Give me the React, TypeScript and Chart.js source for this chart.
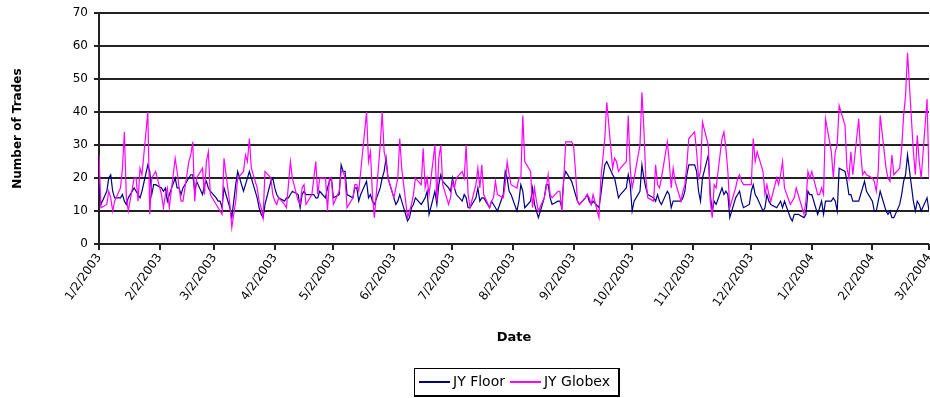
import React, { useEffect, useRef } from "react";
import { Chart, registerables } from "chart.js";

Chart.register(...registerables);

const START_DATE = "1/2/2003";
const END_DATE = "3/2/2004";

const xTickLabels = [
  "1/2/2003", "2/2/2003", "3/2/2003", "4/2/2003", "5/2/2003", "6/2/2003", "7/2/2003",
  "8/2/2003", "9/2/2003", "10/2/2003", "11/2/2003", "12/2/2003", "1/2/2004", "2/2/2004", "3/2/2004",
];

const yTickValues = [0, 10, 20, 30, 40, 50, 60, 70];

const seriesNames = ["JY Floor", "JY Globex"];

// one value per trading day (weekdays), grouped by month
const jyFloor = [
  18, 12, 16, 20, 21, 16, 14, 14, 15, 13, 12, 14, 17, 16, 15, 14, 16, 24, 22, 15, 18, 18,
  17, 16, 17, 13, 15, 20, 17, 17, 15, 17, 20, 21, 21, 16, 19, 15, 18, 19, 17, 16,
  14, 13, 13, 11, 17, 11, 8, 13, 18, 22, 16, 18, 20, 22, 20, 14, 11, 9, 8, 12, 19,
  20, 17, 15, 14, 13, 14, 14, 15, 16, 15, 11, 15, 16, 15, 15, 15, 14, 14, 16, 14, 17, 19,
  20, 14, 15, 24, 22, 22, 15, 14, 17, 17, 13, 15, 19, 14, 15, 13, 12, 17, 20, 22, 26, 20,
  14, 12, 13, 15, 13, 7, 8, 11, 12, 14, 12, 13, 14, 16, 9, 16, 12, 18, 21, 19, 17,
  16, 20, 17, 15, 13, 15, 14, 11, 11, 14, 17, 13, 14, 14, 11, 13, 12, 11, 10, 15, 22, 20, 16,
  15, 10, 13, 18, 16, 11, 13, 17, 12, 10, 8, 14, 18, 18, 14, 12, 13, 13, 11, 20, 22,
  19, 17, 15, 13, 12, 14, 15, 13, 12, 13, 11, 15, 20, 24, 25, 21, 20, 17, 14, 15, 17, 21,
  18, 10, 13, 16, 24, 20, 17, 15, 14, 13, 15, 13, 12, 16, 15, 11, 13, 13, 13, 14, 16, 21, 24,
  24, 22, 16, 13, 20, 27, 15, 10, 13, 12, 17, 15, 16, 15, 8, 14, 15, 16, 13, 11,
  12, 16, 18, 15, 14, 10, 11, 15, 13, 12, 11, 12, 13, 11, 13, 8, 7, 9, 9, 9, 8, 9, 16,
  15, 15, 9, 11, 13, 9, 13, 13, 14, 13, 10, 23, 22, 19, 15, 15, 13, 13, 15, 17, 19, 16,
  13, 10, 10, 13, 16, 10, 9, 10, 8, 8, 12, 15, 19, 21, 27, 13, 10, 13, 12, 10,
  14, 10,
];

const jyGlobex = [
  27, 11, 12, 16, 14, 10, 13, 17, 23, 34, 14, 10, 20, 20, 13, 23, 21, 40, 9, 20, 21, 22,
  15, 11, 15, 17, 11, 26, 22, 17, 13, 13, 25, 27, 31, 13, 20, 23, 15, 25, 28, 15,
  12, 11, 10, 9, 26, 12, 5, 9, 13, 20, 22, 27, 25, 32, 23, 17, 13, 11, 8, 22, 20,
  15, 13, 12, 14, 12, 11, 18, 25, 20, 13, 12, 17, 18, 12, 15, 20, 25, 15, 20, 20, 10, 20,
  20, 12, 16, 22, 22, 20, 11, 14, 18, 18, 16, 22, 40, 25, 28, 15, 8, 30, 40, 28, 25, 20,
  14, 17, 20, 32, 23, 8, 10, 12, 15, 20, 18, 29, 17, 20, 15, 30, 13, 26, 30, 18, 12,
  14, 19, 17, 20, 22, 20, 30, 15, 11, 18, 23, 17, 24, 15, 11, 13, 14, 19, 15, 14, 18, 25, 21,
  18, 17, 20, 20, 39, 25, 22, 11, 17, 13, 10, 14, 17, 21, 15, 14, 16, 16, 10, 20, 31,
  31, 30, 22, 13, 12, 14, 15, 14, 12, 15, 8, 20, 26, 32, 43, 23, 26, 25, 22, 23, 25, 39,
  23, 17, 20, 30, 46, 35, 20, 14, 13, 24, 18, 17, 20, 31, 25, 17, 23, 19, 13, 16, 18, 24, 32,
  34, 28, 20, 22, 37, 30, 13, 8, 18, 17, 32, 34, 29, 22, 11, 17, 20, 21, 19, 18,
  18, 18, 32, 25, 28, 22, 15, 18, 15, 13, 20, 18, 21, 25, 17, 12, 13, 14, 17, 15, 9, 13, 22,
  20, 22, 15, 15, 17, 15, 38, 28, 20, 28, 30, 42, 36, 23, 20, 28, 21, 38, 28, 21, 22, 21,
  20, 19, 16, 22, 39, 23, 20, 19, 27, 21, 23, 29, 39, 45, 58, 28, 21, 33, 25, 20,
  44, 20,
];

const FLOOR_COLOR = "#000080";
const GLOBEX_COLOR = "#FF00FF";
const GRID_COLOR = "#222222";
const FONT = "'DejaVu Sans', sans-serif";

const DAY_MS = 86400000;
function parseMDY(s: string): number {
  const [m, d, y] = s.split("/").map(Number);
  return Date.UTC(y, m - 1, d);
}
const t0 = parseMDY(START_DATE);
const dayOf = (s: string) => Math.round((parseMDY(s) - t0) / DAY_MS);

// trading days (weekdays) between start and end, as day offsets
const tradingDays: number[] = [];
for (let t = t0; t <= parseMDY(END_DATE); t += DAY_MS) {
  const wd = new Date(t).getUTCDay();
  if (wd !== 0 && wd !== 6) tradingDays.push(Math.round((t - t0) / DAY_MS));
}
const tickDays = xTickLabels.map(dayOf);

// grid lines and tick marks, placed through the chart's own scales
const gridPlugin = {
  id: "gridLines",
  beforeDatasetsDraw(chart: any) {
    const ctx = chart.ctx as CanvasRenderingContext2D;
    const ca = chart.chartArea;
    const ys = chart.scales.y;
    const xs = chart.scales.x;
    const L = Math.round(ca.left);
    const R = Math.round(ca.right);
    const B = Math.round(ca.bottom);
    ctx.save();
    ctx.fillStyle = GRID_COLOR;
    yTickValues.forEach((v) => {
      const y = Math.round(ys.getPixelForValue(v));
      ctx.fillRect(L - 5, y - 1, R - L + 5, 2);
    });
    xs.ticks.forEach((t: any) => {
      const x = Math.round(xs.getPixelForValue(t.value));
      ctx.fillRect(x - 1, B, 2, 6);
    });
    // axis lines
    ctx.fillRect(L - 1, Math.round(ca.top) - 1, 2, B - Math.round(ca.top) + 2);
    ctx.fillRect(L - 1, B - 1, R - L + 1, 2);
    ctx.restore();
  },
};

const boxLegend = {
  id: "boxLegend",
  afterDraw(chart: any) {
    const ctx = chart.ctx as CanvasRenderingContext2D;
    const ca = chart.chartArea;
    ctx.save();
    ctx.font = `14px ${FONT}`;
    const colors = [FLOOR_COLOR, GLOBEX_COLOR];
    const lineW = 31, padL = 5, gapT = 3, padR = 8, between = 5;
    const tw = seriesNames.map((n) => ctx.measureText(n).width);
    let w = padL + padR;
    seriesNames.forEach((_, i) => {
      w += lineW + gapT + tw[i] + (i < seriesNames.length - 1 ? between : 0);
    });
    w = Math.round(w);
    const h = 27;
    const top = chart.height - 30;
    const left = Math.round((ca.left + ca.right) / 2 - w / 2 + 2);
    ctx.fillStyle = "#000";
    ctx.fillRect(left, top, w, 1);
    ctx.fillRect(left, top + h, w + 1, 2);
    ctx.fillRect(left, top, 1, h + 1);
    ctx.fillRect(left + w, top, 2, h + 2);
    let x = left + padL;
    const cy = top + h / 2 + 0.5;
    seriesNames.forEach((n, i) => {
      ctx.fillStyle = colors[i];
      ctx.fillRect(x, Math.round(cy) - 1, lineW, 2);
      x += lineW + gapT;
      ctx.fillStyle = "#000";
      ctx.textBaseline = "middle";
      ctx.textAlign = "left";
      ctx.fillText(n, x, cy);
      x += tw[i] + between;
    });
    ctx.restore();
  },
};

export default function App() {
  const ref = useRef<HTMLCanvasElement | null>(null);
  useEffect(() => {
    document.body.style.margin = "0";
    const canvas = ref.current;
    if (!canvas) return;
    const chart = new Chart(canvas, {
      type: "line",
      data: {
        datasets: [
          {
            label: seriesNames[0],
            data: tradingDays.map((x, i) => ({ x, y: jyFloor[i] })),
            borderColor: FLOOR_COLOR,
            borderWidth: 1.2,
            pointRadius: 0,
            tension: 0,
            order: 2,
          },
          {
            label: seriesNames[1],
            data: tradingDays.map((x, i) => ({ x, y: jyGlobex[i] })),
            borderColor: GLOBEX_COLOR,
            borderWidth: 1.2,
            pointRadius: 0,
            tension: 0,
            order: 1,
          },
        ],
      },
      options: {
        animation: false,
        responsive: false,
        devicePixelRatio: 1,
        layout: { padding: { top: 10, right: 1, left: 0, bottom: 48 } },
        plugins: { legend: { display: false }, tooltip: { enabled: false } },
        scales: {
          x: {
            type: "linear",
            min: tickDays[0],
            max: tickDays[tickDays.length - 1],
            afterBuildTicks: (scale: any) => {
              scale.ticks = tickDays.map((v) => ({ value: v }));
            },
            afterFit: (scale: any) => {
              scale.height = 106;
              scale.paddingRight = 0;
              scale.paddingLeft = 0;
            },
            ticks: {
              autoSkip: false,
              minRotation: 55,
              maxRotation: 55,
              padding: 2,
              color: "#000",
              font: { family: FONT, size: 12 },
              callback: (_v: any, i: number) => xTickLabels[i],
            },
            grid: { display: true, drawOnChartArea: false, drawTicks: true, tickLength: 5, color: GRID_COLOR },
            border: { display: true, color: "#000" },
            title: {
              display: true,
              text: "Date",
              color: "#000",
              font: { family: FONT, size: 13, weight: "bold" },
              padding: { top: 0, bottom: 5 },
            },
          },
          y: {
            type: "linear",
            min: yTickValues[0],
            max: yTickValues[yTickValues.length - 1],
            afterFit: (scale: any) => {
              scale.width = 99;
            },
            ticks: {
              stepSize: yTickValues[1] - yTickValues[0],
              color: "#000",
              padding: 6,
              font: { family: FONT, size: 12 },
            },
            grid: { display: true, drawOnChartArea: true, drawTicks: true, color: GRID_COLOR, tickLength: 5 },
            border: { display: true, color: "#000" },
            title: {
              display: true,
              text: "Number of Trades",
              color: "#000",
              font: { family: FONT, size: 12, weight: "bold" },
              padding: { top: 11, bottom: 0 },
            },
          },
        },
      },
      plugins: [gridPlugin, boxLegend],
    } as any);
    return () => chart.destroy();
  }, []);
  return (
    <div style={{ width: 930, height: 398, background: "#fff" }}>
      <canvas ref={ref} width={930} height={398} />
    </div>
  );
}
